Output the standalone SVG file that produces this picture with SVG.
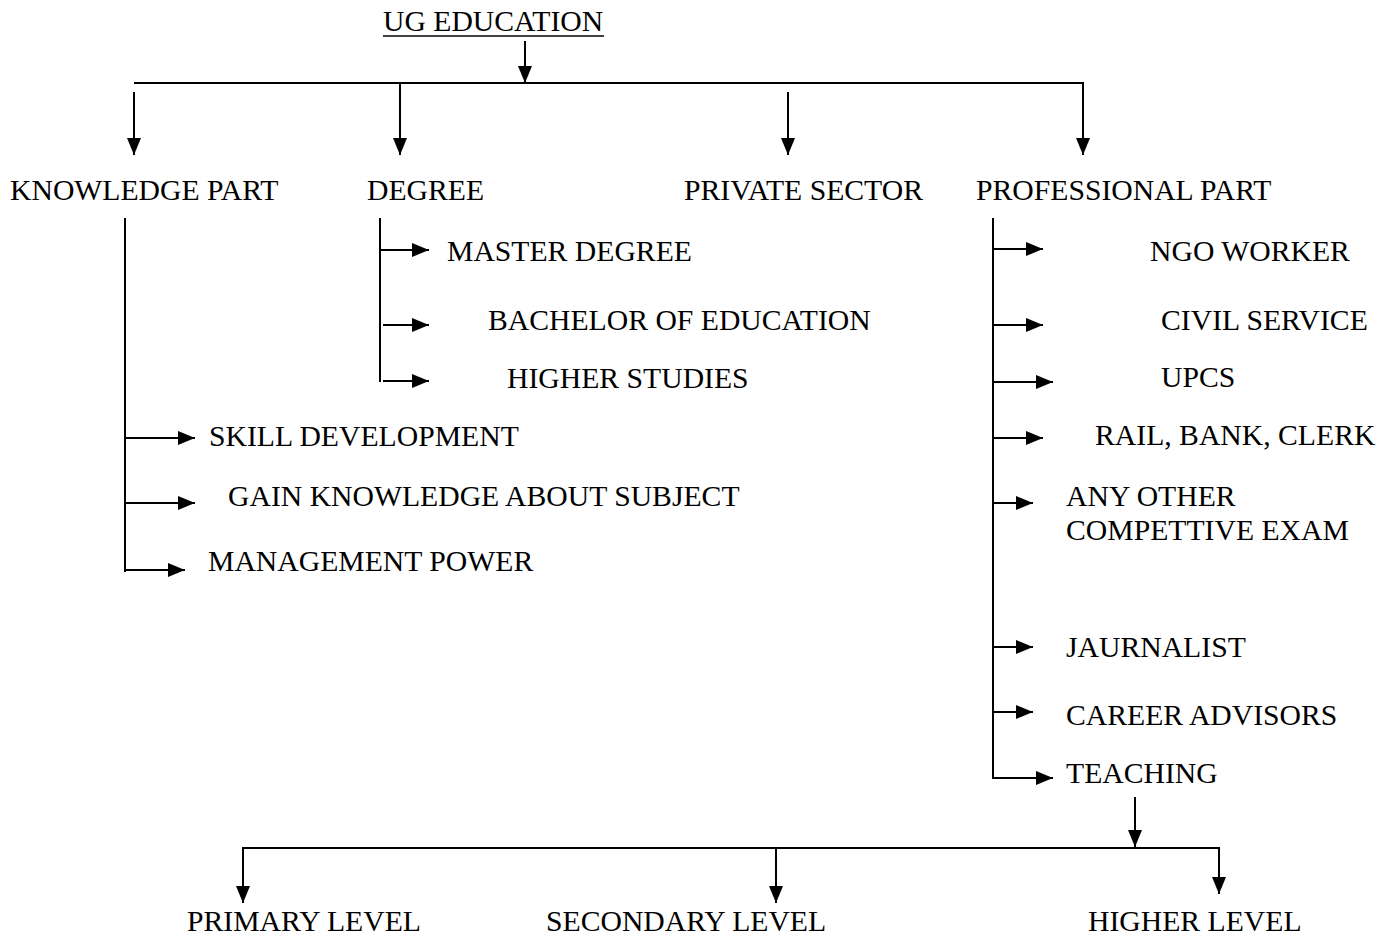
<svg xmlns="http://www.w3.org/2000/svg" width="1388" height="935" viewBox="0 0 1388 935">
<defs>
<style>
text{font-family:"Liberation Serif","Times New Roman",serif;font-size:29.7px;fill:#000}
.c line,.c path{stroke:#000;stroke-width:2;fill:none}
.a{marker-end:url(#ah)}
</style>
<marker id="ah" markerUnits="userSpaceOnUse" markerWidth="17" markerHeight="14" refX="17" refY="7" orient="auto"><path d="M0,0 L17,7 L0,14 z" fill="#000"/></marker>
</defs>
<rect width="1388" height="935" fill="#fff"/>
<g class="c" id="connectors">
<line class="a" x1="525" y1="41" x2="525" y2="83"/>
<line x1="134" y1="83" x2="1083" y2="83"/>
<line class="a" x1="134" y1="92" x2="134" y2="155"/>
<line class="a" x1="400" y1="83" x2="400" y2="155"/>
<line class="a" x1="788" y1="92" x2="788" y2="155"/>
<line class="a" x1="1083" y1="82" x2="1083" y2="155"/>
<line x1="125" y1="218" x2="125" y2="572"/>
<line class="a" x1="125" y1="438" x2="195" y2="438"/>
<line class="a" x1="125" y1="503" x2="195" y2="503"/>
<line class="a" x1="124" y1="570" x2="185" y2="570"/>
<line x1="380" y1="218" x2="380" y2="382"/>
<line class="a" x1="380" y1="250" x2="429" y2="250"/>
<line class="a" x1="383" y1="325" x2="429" y2="325"/>
<line class="a" x1="383" y1="381" x2="429" y2="381"/>
<line x1="993" y1="218" x2="993" y2="779"/>
<line class="a" x1="993" y1="249" x2="1043" y2="249"/>
<line class="a" x1="993" y1="325" x2="1043" y2="325"/>
<line class="a" x1="993" y1="382" x2="1053" y2="382"/>
<line class="a" x1="993" y1="438" x2="1043" y2="438"/>
<line class="a" x1="993" y1="503" x2="1033" y2="503"/>
<line class="a" x1="993" y1="647" x2="1033" y2="647"/>
<line class="a" x1="993" y1="712" x2="1033" y2="712"/>
<line class="a" x1="992" y1="778" x2="1053" y2="778"/>
<line class="a" x1="1135" y1="797" x2="1135" y2="847"/>
<line x1="242" y1="848" x2="1219" y2="848"/>
<line class="a" x1="243" y1="848" x2="243" y2="903"/>
<line class="a" x1="776" y1="848" x2="776" y2="903"/>
<line class="a" x1="1219" y1="847" x2="1219" y2="894"/>
</g>
<g id="ug-education"><text x="383" y="31">UG EDUCATION</text><line x1="383" y1="36" x2="604" y2="36" stroke="#000" stroke-width="1.5"/></g>
<g id="knowledge-part"><text x="10" y="200">KNOWLEDGE PART</text></g>
<g id="degree"><text x="367" y="200">DEGREE</text></g>
<g id="private-sector"><text x="684" y="200">PRIVATE SECTOR</text></g>
<g id="professional-part"><text x="976" y="200">PROFESSIONAL PART</text></g>
<g id="master-degree"><text x="447" y="261">MASTER DEGREE</text></g>
<g id="bachelor-of-education"><text x="488" y="330">BACHELOR OF EDUCATION</text></g>
<g id="higher-studies"><text x="507" y="388">HIGHER STUDIES</text></g>
<g id="skill-development"><text x="209" y="446">SKILL DEVELOPMENT</text></g>
<g id="gain-knowledge"><text x="228" y="506">GAIN KNOWLEDGE ABOUT SUBJECT</text></g>
<g id="management-power"><text x="208" y="571">MANAGEMENT POWER</text></g>
<g id="ngo-worker"><text x="1150" y="261">NGO WORKER</text></g>
<g id="civil-service"><text x="1161" y="330">CIVIL SERVICE</text></g>
<g id="upcs"><text x="1161" y="387">UPCS</text></g>
<g id="rail-bank-clerk"><text x="1095" y="445">RAIL, BANK, CLERK</text></g>
<g id="any-other"><text x="1066" y="506">ANY OTHER</text><text x="1066" y="540">COMPETTIVE EXAM</text></g>
<g id="jaurnalist"><text x="1066" y="657">JAURNALIST</text></g>
<g id="career-advisors"><text x="1066" y="725">CAREER ADVISORS</text></g>
<g id="teaching"><text x="1066" y="783">TEACHING</text></g>
<g id="primary-level"><text x="187" y="931">PRIMARY LEVEL</text></g>
<g id="secondary-level"><text x="546" y="931">SECONDARY LEVEL</text></g>
<g id="higher-level"><text x="1088" y="931">HIGHER LEVEL</text></g>
</svg>
